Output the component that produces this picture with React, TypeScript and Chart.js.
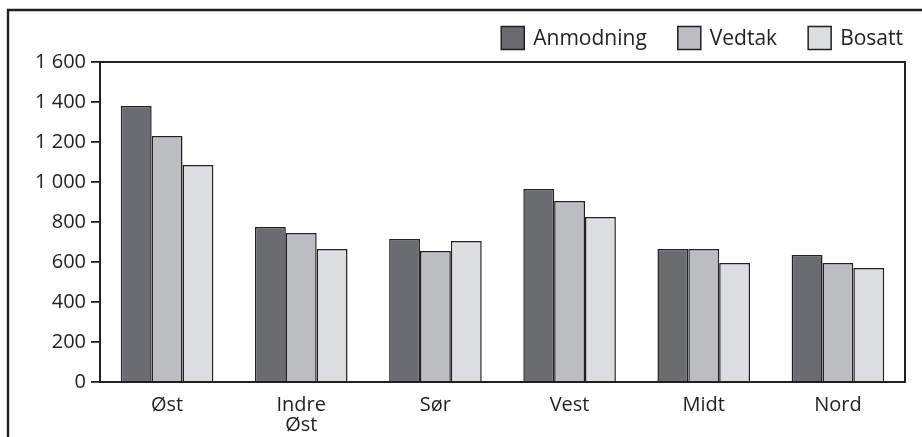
import React, { useEffect, useRef } from "react";
import { Chart, registerables } from "chart.js";

Chart.register(...registerables);

const categories: (string | string[])[] = ["Øst", ["Indre", "Øst"], "Sør", "Vest", "Midt", "Nord"];
const anmodning = [1380, 775, 715, 965, 665, 635];
const vedtak = [1230, 745, 655, 905, 665, 595];
const bosatt = [1085, 665, 705, 825, 595, 570];
const seriesLabels = ["Anmodning", "Vedtak", "Bosatt"];
const seriesColors = ["#6b6c70", "#bcbdc0", "#dcdddf"];

const INK = "#231f20";
const FONT = '"Open Sans", "DejaVu Sans", sans-serif';

const fmt = (v: number) => String(v).replace(/\B(?=(\d{3})+(?!\d))/g, " ");

const framePlugin = {
  id: "frame",
  afterDraw(chart: any) {
    const { ctx, chartArea, width, height } = chart;
    ctx.save();
    ctx.strokeStyle = INK;
    // outer frame (left and top visible)
    ctx.lineWidth = 2.4;
    ctx.beginPath();
    ctx.moveTo(8, height + 5);
    ctx.lineTo(8, 10);
    ctx.lineTo(width + 5, 10);
    ctx.stroke();
    // plot area border
    ctx.lineWidth = 2;
    ctx.strokeRect(chartArea.left, chartArea.top, chartArea.right - chartArea.left, chartArea.bottom - chartArea.top);
    ctx.restore();
  },
};

const legendPlugin = {
  id: "customLegend",
  afterDraw(chart: any) {
    const { ctx, chartArea } = chart;
    ctx.save();
    ctx.font = `21px ${FONT}`;
    const box = 23;
    const gapText = 9;
    const gapItem = 31;
    const items = chart.data.datasets.map((d: any) => ({
      label: d.label as string,
      color: d.backgroundColor as string,
      w: ctx.measureText(d.label).width,
    }));
    const total =
      items.reduce((s: number, it: any) => s + box + gapText + it.w, 0) + gapItem * (items.length - 1);
    let x = chartArea.right - 2 - total;
    const cy = chartArea.top - 24;
    ctx.textBaseline = "middle";
    ctx.textAlign = "left";
    for (const it of items) {
      ctx.fillStyle = it.color;
      ctx.fillRect(x, cy - box / 2, box, box);
      ctx.strokeStyle = INK;
      ctx.lineWidth = 1.5;
      ctx.strokeRect(x, cy - box / 2, box, box);
      ctx.fillStyle = INK;
      ctx.fillText(it.label, x + box + gapText, cy + 1);
      x += box + gapText + it.w + gapItem;
    }
    ctx.restore();
  },
};

export default function App() {
  const ref = useRef<HTMLCanvasElement | null>(null);
  useEffect(() => {
    if (!ref.current) return;
    const series = [anmodning, vedtak, bosatt];
    const chart = new Chart(ref.current, {
      type: "bar",
      data: {
        labels: categories,
        datasets: series.map((data, i) => ({
          label: seriesLabels[i],
          data,
          backgroundColor: seriesColors[i],
          borderColor: INK,
          borderWidth: 1.5,
          categoryPercentage: 0.69,
          barPercentage: 1.0,
        })),
      },
      options: {
        animation: false,
        responsive: false,
        maintainAspectRatio: false,
        devicePixelRatio: 1,
        layout: { padding: { left: 0, right: 17, top: 62, bottom: 0 } },
        plugins: { legend: { display: false }, tooltip: { enabled: false } },
        scales: {
          x: {
            grid: { display: false },
            border: { display: true, color: INK, width: 2 },
            ticks: {
              color: INK,
              font: { family: FONT, size: 20, lineHeight: 1.0 },
              padding: 5,
              maxRotation: 0,
              autoSkip: false,
            },
            afterFit(scale: any) {
              scale.height = 55;
            },
          },
          y: {
            min: 0,
            max: 1600,
            grid: {
              display: true,
              drawOnChartArea: false,
              drawTicks: true,
              tickLength: 9,
              tickColor: INK,
              color: INK,
              lineWidth: 1.8,
            },
            border: { display: true, color: INK, width: 2 },
            ticks: {
              stepSize: 200,
              color: INK,
              font: { family: FONT, size: 20 },
              padding: 5,
              callback: (v: any) => fmt(Number(v)),
            },
            afterFit(scale: any) {
              scale.width = 100;
            },
          },
        },
      },
      plugins: [framePlugin, legendPlugin],
    });
    return () => chart.destroy();
  }, []);
  return (
    <div style={{ position: "absolute", left: 0, top: 0, width: 922, height: 437, background: "#fff" }}>
      <canvas ref={ref} width={922} height={437} style={{ display: "block", width: 922, height: 437 }} />
    </div>
  );
}
